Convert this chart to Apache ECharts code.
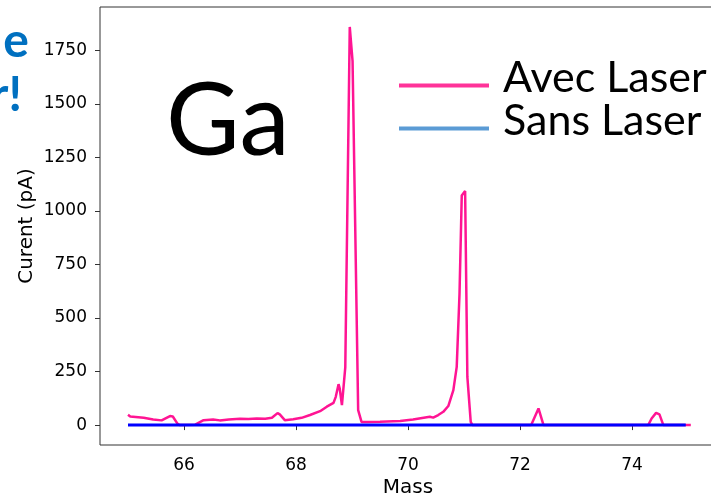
<!DOCTYPE html>
<html>
<head>
<meta charset="utf-8">
<script src="https://cdn.jsdelivr.net/npm/echarts@6/dist/echarts.min.js"></script>
<style>
html,body{margin:0;padding:0;background:#fff;}
#chart{width:711px;height:496px;}
</style>
</head>
<body>
<div id="chart"></div>
<script>
// ---- data ----
const avecMass = [65.00, 65.04, 65.28, 65.45, 65.60, 65.75, 65.80, 65.88, 65.92, 66.20, 66.35, 66.52, 66.64, 66.80, 67.00, 67.15, 67.30, 67.45, 67.57, 67.67, 67.71, 67.80, 67.95, 68.10, 68.25, 68.43, 68.55, 68.67, 68.71, 68.76, 68.78, 68.82, 68.88, 68.96, 69.01, 69.11, 69.17, 69.26, 69.50, 69.86, 70.09, 70.39, 70.45, 70.54, 70.63, 70.72, 70.81, 70.87, 70.92, 70.96, 71.02, 71.06, 71.12, 71.15, 72.20, 72.33, 72.42, 74.29, 74.35, 74.43, 74.49, 74.56, 75.05];
const avecValues = [48, 40, 34, 26, 22, 42, 40, 8, 0, 2, 23, 26, 22, 26, 30, 28, 31, 30, 34, 56, 50, 23, 27, 34, 47, 65, 86, 104, 132, 191, 172, 93, 270, 1860, 1700, 70, 15, 15, 16, 19, 26, 39, 35, 47, 62, 89, 163, 272, 615, 1073, 1094, 225, 15, 0, 0, 78, 0, 0, 31, 57, 50, 0, 0];
const sansMass = [65.0, 66.0, 67.0, 68.0, 69.0, 70.0, 71.0, 72.0, 73.0, 74.0, 74.96];
const sansValues = [0, 0, 0, 0, 0, 0, 0, 0, 0, 0, 0];
const xTicks = [66, 68, 70, 72, 74];
const yTicks = [0, 250, 500, 750, 1000, 1250, 1500, 1750];
const seriesNames = ['Avec Laser', 'Sans Laser'];
const elementLabel = 'Ga';
const xName = 'Mass';
const yName = 'Curent (pA)';

const avecData = avecMass.map((m, i) => [m, avecValues[i]]);
const sansData = sansMass.map((m, i) => [m, sansValues[i]]);

const chart = echarts.init(document.getElementById('chart'), null, {renderer: 'canvas'});
const tickFont = {fontFamily: 'DejaVu Sans', fontSize: 17, color: '#000', formatter: v => String(v)};
const legendIcon = 'path://M0,0L0.01,0L0,0.01Z M0,14L90,14L90,18L0,18Z';
chart.setOption({
  animation: false,
  backgroundColor: '#fff',
  grid: {
    left: 100, top: 7, width: 616, height: 438,
    outerBoundsMode: 'none', containLabel: false,
    show: true, borderColor: '#333', borderWidth: 1, backgroundColor: 'transparent'
  },
  xAxis: {
    type: 'value', min: 64.5, max: 75.5,
    name: xName, nameLocation: 'middle', nameGap: 33, nameMoveOverlap: false,
    nameTextStyle: {fontFamily: 'DejaVu Sans', fontSize: 20, color: '#000'},
    axisLine: {show: false},
    axisTick: {show: true, length: 5, lineStyle: {color: '#333', width: 1}, customValues: xTicks},
    axisLabel: Object.assign({margin: 12, customValues: xTicks}, tickFont),
    splitLine: {show: false}
  },
  yAxis: {
    type: 'value', min: -93, max: 1953,
    name: yName, nameLocation: 'middle', nameGap: 63, nameRotate: 90, nameMoveOverlap: false,
    nameTextStyle: {fontFamily: 'DejaVu Sans', fontSize: 20, color: '#000'},
    axisLine: {show: false},
    axisTick: {show: true, length: 5, lineStyle: {color: '#333', width: 1}, customValues: yTicks},
    axisLabel: Object.assign({margin: 13, customValues: yTicks}, tickFont),
    splitLine: {show: false}
  },
  legend: {
    orient: 'vertical', left: 399, top: 57, padding: 0,
    itemWidth: 90, itemHeight: 18, itemGap: 0,
    data: [
      {name: seriesNames[0], icon: legendIcon, itemStyle: {color: '#FF3399'}},
      {name: seriesNames[1], icon: legendIcon, itemStyle: {color: '#5B9BD5'}}
    ],
    textStyle: {fontFamily: 'Lato', fontSize: 43, lineHeight: 42, color: '#000', padding: [0, 0, 0, 9]}
  },
  graphic: [
    {type: 'text', x: 166, y: 122, style: {text: elementLabel, font: '101px Lato', fill: '#000', verticalAlign: 'middle', align: 'left'}},
    {type: 'text', x: 29, y: 42, style: {text: 'e', font: 'bold 48px Lato', fill: '#0070C0', verticalAlign: 'middle', align: 'right'}},
    {type: 'text', x: 22, y: 96, style: {text: 'r!', font: 'bold 48px Lato', fill: '#0070C0', verticalAlign: 'middle', align: 'right'}}
  ],
  series: [
    {name: seriesNames[0], type: 'line', data: avecData, showSymbol: false, symbol: 'none',
     lineStyle: {color: '#FF1493', width: 2.5}, itemStyle: {color: '#FF1493'}, z: 2},
    {name: seriesNames[1], type: 'line', data: sansData, showSymbol: false, symbol: 'none',
     lineStyle: {color: '#0000FF', width: 3}, itemStyle: {color: '#0000FF'}, z: 3}
  ]
});
</script>
</body>
</html>
